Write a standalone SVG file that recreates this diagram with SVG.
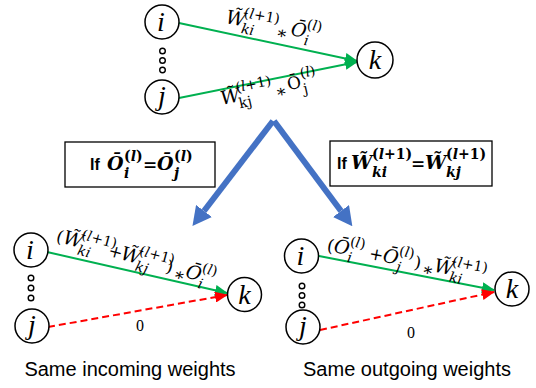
<svg xmlns="http://www.w3.org/2000/svg" width="536" height="388" viewBox="0 0 536 388">
<style>
.nd{fill:#fff;stroke:#000;stroke-width:1.5}
.dot{fill:#fff;stroke:#000;stroke-width:1.4}
.nl{font-family:"Liberation Serif",serif;font-style:italic;font-size:28px;text-anchor:middle;fill:#000}
.lab{font-family:"DejaVu Serif",serif;fill:#000}
.m{font-style:italic;font-size:19px}
.s{font-style:italic;font-size:14px}
.u{font-style:normal;font-size:17px}
.su{font-style:normal}
.b{font-weight:bold}
.g{stroke:#00B050;stroke-width:2;fill:none}
.r{stroke:#FF0000;stroke-width:2;fill:none;stroke-dasharray:7 4}
.bl{stroke:#4472C4;stroke-width:6;fill:none}
.box{fill:#fff;stroke:#000;stroke-width:1.3}
.cap{font-family:"Liberation Sans",Arial,sans-serif;font-size:20px;text-anchor:middle;fill:#000}
.if{font-family:"Liberation Sans",Arial,sans-serif;font-size:16px;font-weight:bold;font-style:normal}
.z{font-family:"Liberation Serif",serif;font-size:16px;fill:#000}
</style>
<defs>
<marker id="ag" markerUnits="userSpaceOnUse" markerWidth="13" markerHeight="11" refX="12" refY="5.5" orient="auto"><path d="M0,0 L13,5.5 L0,11 z" fill="#00B050"/></marker>
<marker id="ar" markerUnits="userSpaceOnUse" markerWidth="13" markerHeight="11" refX="12" refY="5.5" orient="auto"><path d="M0,0 L13,5.5 L0,11 z" fill="#FF0000"/></marker>
<marker id="ab" markerUnits="userSpaceOnUse" markerWidth="19" markerHeight="20" refX="0" refY="10" orient="auto"><path d="M0,0 L19,10 L0,20 z" fill="#4472C4"/></marker>
</defs>

<g id="connectors">
  <path class="g" d="M179,23 L357,61" marker-end="url(#ag)"/>
  <path class="g" d="M179,98 L357,62" marker-end="url(#ag)"/>
  <path class="g" d="M47,252 L227,293" marker-end="url(#ag)"/>
  <path class="r" d="M48,327 L227,295" marker-end="url(#ar)"/>
  <path class="g" d="M319,256 L494,290" marker-end="url(#ag)"/>
  <path class="r" d="M320,330 L494,292" marker-end="url(#ar)"/>
  <path class="bl" d="M273,121 L204,211" marker-end="url(#ab)"/>
  <path class="bl" d="M274,121 L341,211" marker-end="url(#ab)"/>
</g>

<g id="top-labels">
  <g transform="translate(225,23) rotate(10.5)">
    <text class="lab"><tspan class="m" x="0" y="0">W&#x303;</tspan><tspan class="s" x="17" y="-9"><tspan class="su">(</tspan>l<tspan class="su">+1)</tspan></tspan><tspan class="s" x="17" y="7">ki</tspan><tspan class="u" x="52" y="5">&#x2217;</tspan><tspan class="m" x="66" y="0">&#x14C;</tspan><tspan class="s" x="81" y="-9"><tspan class="su">(</tspan>l<tspan class="su">)</tspan></tspan><tspan class="s" x="81" y="7">i</tspan></text>
  </g>
  <g transform="translate(222,105) rotate(-12.5)">
    <text class="lab"><tspan class="m" x="0" y="0">W&#x303;</tspan><tspan class="s" x="17" y="-9"><tspan class="su">(</tspan>l<tspan class="su">+1)</tspan></tspan><tspan class="s su" x="17" y="7">kj</tspan><tspan class="u" x="55" y="5">&#x2217;</tspan><tspan class="u" x="68" y="0">&#x14C;</tspan><tspan class="s" x="83" y="-9"><tspan class="su">(</tspan>l<tspan class="su">)</tspan></tspan><tspan class="s su" x="83" y="7">j</tspan></text>
  </g>
</g>

<g id="node-top-i"><circle class="nd" cx="162" cy="22" r="17"/><text class="nl" x="161" y="31">i</text></g>
<g id="dots-top"><circle class="dot" cx="162.5" cy="51" r="2.8"/><circle class="dot" cx="162.5" cy="60.5" r="2.8"/><circle class="dot" cx="162.5" cy="70" r="2.8"/></g>
<g id="node-top-j"><circle class="nd" cx="162" cy="97" r="17"/><text class="nl" x="162" y="105">j</text></g>
<g id="node-top-k"><circle class="nd" cx="375" cy="60" r="18"/><text class="nl" x="375" y="69">k</text></g>

<g id="box-left"><rect class="box" x="65" y="142" width="150" height="45"/>
  <text class="lab b"><tspan class="if" x="90" y="170">If</tspan><tspan class="m" x="107" y="170">&#x14C;</tspan><tspan class="s" x="124" y="161" font-size="13"><tspan class="su">(</tspan>l<tspan class="su">)</tspan></tspan><tspan class="s" x="124" y="178" font-size="13">i</tspan><tspan class="u" x="143" y="170" font-size="14">=</tspan><tspan class="m" x="157" y="170">&#x14C;</tspan><tspan class="s" x="174" y="161" font-size="13"><tspan class="su">(</tspan>l<tspan class="su">)</tspan></tspan><tspan class="s" x="174" y="178" font-size="13">j</tspan></text>
</g>
<g id="box-right"><rect class="box" x="330" y="141" width="162" height="45"/>
  <text class="lab b"><tspan class="if" x="337" y="169">If</tspan><tspan class="m" x="351" y="169">W&#x303;</tspan><tspan class="s" x="372" y="159" font-size="12.5"><tspan class="su">(</tspan>l<tspan class="su">+1)</tspan></tspan><tspan class="s" x="372" y="177" font-size="12.5">ki</tspan><tspan class="u" x="411" y="169" font-size="14">=</tspan><tspan class="m" x="425" y="169">W&#x303;</tspan><tspan class="s" x="446" y="159" font-size="12.5"><tspan class="su">(</tspan>l<tspan class="su">+1)</tspan></tspan><tspan class="s" x="446" y="177" font-size="12.5">kj</tspan></text>
</g>

<g id="bl-label" transform="translate(62,243) rotate(15.5)">
  <text class="lab"><tspan class="u" x="-7" y="0">(</tspan><tspan class="m" x="0" y="0">W&#x303;</tspan><tspan class="s" x="17" y="-9"><tspan class="su">(</tspan>l<tspan class="su">+1)</tspan></tspan><tspan class="s" x="17" y="7">ki</tspan><tspan class="u" x="47" y="0">+</tspan><tspan class="m" x="60" y="0">W&#x303;</tspan><tspan class="s" x="77" y="-9"><tspan class="su">(</tspan>l<tspan class="su">+1)</tspan></tspan><tspan class="s" x="77" y="7">kj</tspan><tspan class="u" x="107" y="0">)</tspan><tspan class="u" x="116" y="5">&#x2217;</tspan><tspan class="m" x="127" y="0">&#x14C;</tspan><tspan class="s" x="142" y="-9"><tspan class="su">(</tspan>l<tspan class="su">)</tspan></tspan><tspan class="s" x="142" y="7">i</tspan></text>
</g>
<g id="node-bl-i"><circle class="nd" cx="31" cy="250" r="17"/><text class="nl" x="30" y="259">i</text></g>
<g id="dots-bl"><circle class="dot" cx="31" cy="278" r="2.8"/><circle class="dot" cx="31" cy="288" r="2.8"/><circle class="dot" cx="31" cy="298" r="2.8"/></g>
<g id="node-bl-j"><circle class="nd" cx="32" cy="326" r="17"/><text class="nl" x="32" y="334">j</text></g>
<g id="node-bl-k"><circle class="nd" cx="244.5" cy="294.5" r="17"/><text class="nl" x="244.5" y="303.5">k</text></g>
<text class="z" x="140" y="331" text-anchor="middle">0</text>
<text class="cap" x="130" y="376">Same incoming weights</text>

<g id="br-label" transform="translate(333,252) rotate(11)">
  <text class="lab"><tspan class="u" x="-7" y="0">(</tspan><tspan class="m" x="0" y="0">&#x14C;</tspan><tspan class="s" x="15" y="-9"><tspan class="su">(</tspan>l<tspan class="su">)</tspan></tspan><tspan class="s" x="15" y="7">i</tspan><tspan class="u" x="36" y="0">+</tspan><tspan class="m" x="50" y="0">&#x14C;</tspan><tspan class="s" x="65" y="-9"><tspan class="su">(</tspan>l<tspan class="su">)</tspan></tspan><tspan class="s" x="65" y="7">j</tspan><tspan class="u" x="82" y="0">)</tspan><tspan class="u" x="91" y="5">&#x2217;</tspan><tspan class="m" x="102" y="0">W&#x303;</tspan><tspan class="s" x="119" y="-9"><tspan class="su">(</tspan>l<tspan class="su">+1)</tspan></tspan><tspan class="s" x="119" y="7">ki</tspan></text>
</g>
<g id="node-br-i"><circle class="nd" cx="301.5" cy="256" r="17"/><text class="nl" x="300.5" y="265">i</text></g>
<g id="dots-br"><circle class="dot" cx="302" cy="286" r="2.8"/><circle class="dot" cx="302" cy="295.5" r="2.8"/><circle class="dot" cx="302" cy="305" r="2.8"/></g>
<g id="node-br-j"><circle class="nd" cx="303" cy="327" r="17"/><text class="nl" x="303" y="335">j</text></g>
<g id="node-br-k"><circle class="nd" cx="512" cy="289" r="17"/><text class="nl" x="512" y="298">k</text></g>
<text class="z" x="411" y="338" text-anchor="middle">0</text>
<text class="cap" x="407" y="376">Same outgoing weights</text>
</svg>
